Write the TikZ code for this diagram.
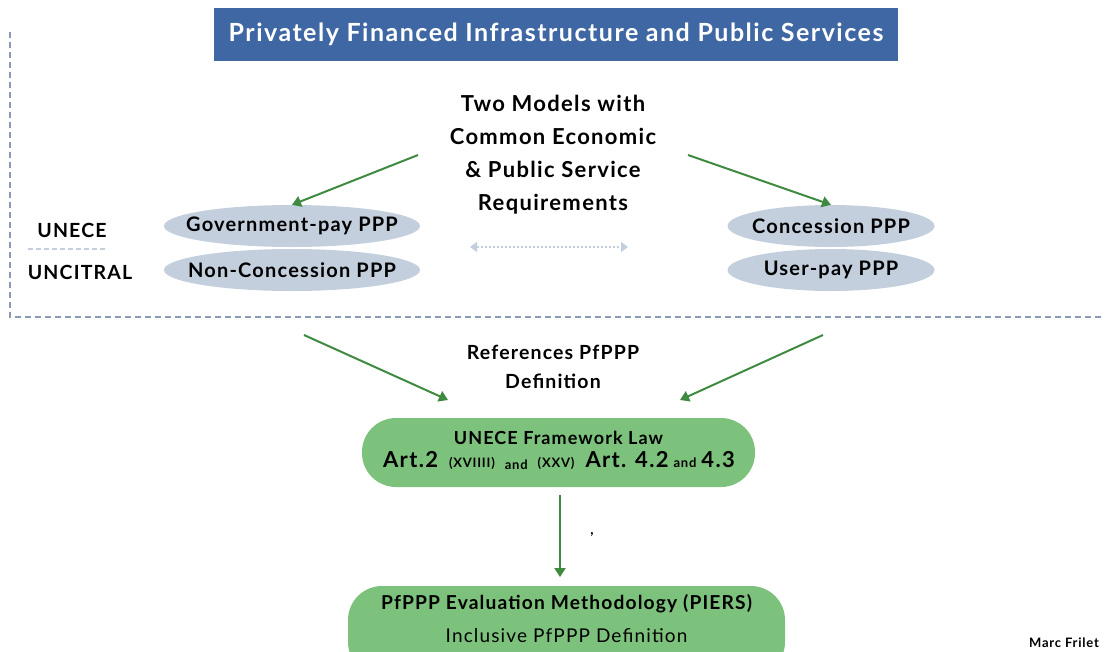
\documentclass[tikz,border=0pt]{standalone}
\usepackage{fontspec}
\setmainfont{Lato}[LetterSpace=6]
\usetikzlibrary{arrows.meta, shapes.geometric}

\definecolor{titleblue}{RGB}{63,103,164}
\definecolor{framegray}{RGB}{140,155,181}
\definecolor{ovalgray}{RGB}{196,207,222}
\definecolor{arrowgreen}{RGB}{62,138,64}
\definecolor{boxgreen}{RGB}{125,194,124}

\tikzset{
  oval/.style={ellipse, fill=ovalgray, minimum height=42pt, inner sep=0pt},
  ovaltext/.style={font=\bfseries\fontsize{20}{22}\selectfont},
  greenarrow/.style={arrowgreen, line width=2pt, -{Triangle[length=9pt,width=11pt]}},
  greenbox/.style={rounded corners=34pt, fill=boxgreen},
  sidetext/.style={font=\bfseries\fontsize{19.5}{21}\selectfont}
}

\begin{document}
\begin{tikzpicture}[x=1pt, y=-1pt]

\useasboundingbox (0,0) rectangle (1105,651);
\clip (0,0) rectangle (1105,651);

% frame
\draw[framegray, line width=1.5pt, dash pattern=on 6pt off 4pt] (10,32) -- (10,317) -- (1105,317);

% title
\node[fill=titleblue, text=white, minimum width=684pt, minimum height=53pt, font=\fontsize{25}{27}\selectfont\bfseries] (title) at (556,34.5) {Privately Financed Infrastructure and Public Services};

\node[align=center, font=\bfseries\fontsize{22}{33}\selectfont] (models) at (553,155) {Two Models with\\Common Economic\\\& Public Service\\Requirements};

% ovals
\node[oval, minimum width=256pt] (govpay) at (292,226) {};
\node[oval, minimum width=256pt] (noncon) at (292,270) {};
\node[oval, minimum width=207pt] (concession) at (831,226) {};
\node[oval, minimum width=207pt] (userpay) at (831,270) {};
\node[ovaltext] (govpaytext) at (govpay) {Government-pay PPP};
\node[ovaltext] (noncontext) at (noncon) {Non-Concession PPP};
\node[ovaltext] (concessiontext) at (concession) {Concession PPP};
\node[ovaltext] (userpaytext) at (userpay) {User-pay PPP};

\node[sidetext] (unece) at (72,230) {UNECE};
\node[sidetext] (uncitral) at (80,272) {UNCITRAL};
\draw[ovalgray, line width=1.5pt, dash pattern=on 5pt off 3pt] (28,249) -- (108,249);

\coordinate (mlstart) at (418,155);
\coordinate (mrstart) at (688,155);
\draw[greenarrow] (mlstart) -- (govpay.north);
\draw[greenarrow] (mrstart) -- (concession.north);

\coordinate (dl) at (470,247);
\coordinate (dr) at (628,247);
\draw[ovalgray, line width=2pt, dotted, {Triangle[length=7pt,width=10pt]}-{Triangle[length=7pt,width=10pt]}] (dl) -- (dr);

% lower part
\node[align=center, font=\bfseries\fontsize{19.5}{29}\selectfont] (refs) at (553,367) {References PfPPP\\Definition};

\node[greenbox, minimum width=393pt, minimum height=69pt] (law) at (558.5,452.5) {};
\node[font=\bfseries\fontsize{18}{20}\selectfont] (lawtitle) at (558.5,438) {UNECE Framework Law};
\node[font=\bfseries] (lawarts) at (559,461) {\fontsize{22}{24}\selectfont Art.2\hspace{11pt}\fontsize{13}{14}\selectfont(XVIIII)\hspace{10pt}\raisebox{-2pt}{\fontsize{13}{14}\selectfont and}\hspace{10pt}(XXV)\hspace{11pt}\fontsize{22}{24}\selectfont Art. 4.2\hspace{5pt}\fontsize{13}{14}\selectfont and\hspace{5pt}\fontsize{22}{24}\selectfont 4.3};

\coordinate (lstart) at (304,335);
\coordinate (rstart) at (823,335);
\coordinate (lend) at (448,400);
\coordinate (rend) at (680,400);
\draw[greenarrow] (lstart) -- (lend);
\draw[greenarrow] (rstart) -- (rend);

\node[greenbox, minimum width=437pt, minimum height=90pt] (piers) at (566.5,631) {};
\node[font=\bfseries\fontsize{19.2}{22}\selectfont] (piersa) at (566.5,604) {PfPPP Evaluation Methodology (PIERS)};
\node[font=\fontsize{19}{21}\selectfont] (piersb) at (566.5,636) {Inclusive PfPPP Definition};

\coordinate (dstart) at (560,495);
\draw[greenarrow] (dstart) -- (560,577);
\node[font=\bfseries\fontsize{14}{16}\selectfont] (comma) at (592,534) {,};

\node[font=\bfseries\fontsize{13}{14}\selectfont] (author) at (1064,643) {Marc Frilet};

\end{tikzpicture}
\end{document}
